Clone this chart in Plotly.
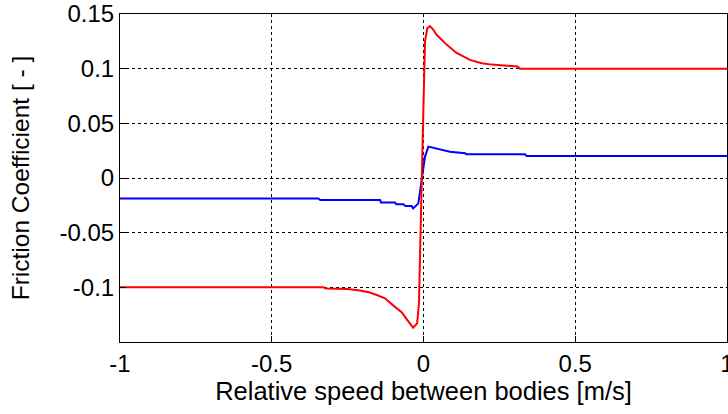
import plotly.graph_objects as go

# Red curve (higher friction)
red_x = [-1, -0.33, -0.32, -0.25, -0.21, -0.18, -0.154, -0.127, -0.10, -0.072, -0.053,
         -0.034, -0.021, -0.015, -0.001, 0.005, 0.0125, 0.021, 0.032, 0.043, 0.076,
         0.109, 0.153, 0.192, 0.225, 0.31, 0.318, 1]
red_y = [-0.1, -0.1, -0.101, -0.1015, -0.103, -0.1045, -0.107, -0.110, -0.1165, -0.1227, -0.130,
         -0.137, -0.133, -0.115, 0.056, 0.125, 0.137, 0.139, 0.1358, 0.131, 0.122,
         0.1144, 0.108, 0.105, 0.1037, 0.102, 0.1, 0.1]

# Blue curve (lower friction)
blue_x = [-1, -0.347, -0.34, -0.143, -0.14, -0.094, -0.09, -0.066, -0.06, -0.039, -0.034,
          -0.017, -0.006, 0.005, 0.016, 0.027, 0.054, 0.087, 0.137, 0.142, 0.334, 0.34, 1]
blue_y = [-0.0187, -0.0187, -0.0202, -0.0202, -0.0223, -0.0223, -0.0239, -0.0239, -0.0257, -0.0257, -0.0278,
          -0.0232, -0.0018, 0.0196, 0.0287, 0.028, 0.0257, 0.0241, 0.0226, 0.0217, 0.0217, 0.0202, 0.0202]

x_ticks = [-1, -0.5, 0, 0.5, 1]
x_labels = ["-1", "-0.5", "0", "0.5", "1"]
y_ticks = [-0.1, -0.05, 0, 0.05, 0.1, 0.15]
y_labels = ["-0.1", "-0.05", "0", "0.05", "0.1", "0.15"]

fig = go.Figure()
fig.add_trace(go.Scatter(x=blue_x, y=blue_y, mode="lines",
                         line=dict(color="#0000FF", width=2), showlegend=False))
fig.add_trace(go.Scatter(x=red_x, y=red_y, mode="lines",
                         line=dict(color="#FF0000", width=2), showlegend=False))

font = dict(family="Liberation Sans", size=24, color="black")
xtitle_font = dict(family="Liberation Sans", size=25.5, color="black")
ytitle_font = dict(family="Liberation Sans", size=24.5, color="black")

fig.update_layout(
    width=728, height=414,
    margin=dict(l=120, r=1, t=14, b=72),
    paper_bgcolor="white", plot_bgcolor="white",
    font=font,
    xaxis=dict(
        range=[-1, 1], tickvals=x_ticks, ticktext=x_labels,
        showgrid=True, gridcolor="black", gridwidth=1, griddash="3px,3px",
        showline=True, linecolor="black", linewidth=1, mirror=True,
        ticks="inside", ticklen=6, tickcolor="black",
        zeroline=False, ticklabeloverflow="allow", automargin=False,
        title=dict(text="Relative speed between bodies [m/s]", standoff=4, font=xtitle_font),
        tickfont=font,
    ),
    yaxis=dict(
        range=[-0.15, 0.15], tickvals=y_ticks, ticktext=y_labels,
        showgrid=True, gridcolor="black", gridwidth=1, griddash="3px,3px",
        showline=True, linecolor="black", linewidth=1, mirror=True,
        ticks="inside", ticklen=6, tickcolor="black",
        zeroline=False, automargin=False,
        title=dict(text="Friction Coefficient [ - ]", standoff=22, font=ytitle_font),
        tickfont=font,
    ),
)

fig.write_html("out.html")
